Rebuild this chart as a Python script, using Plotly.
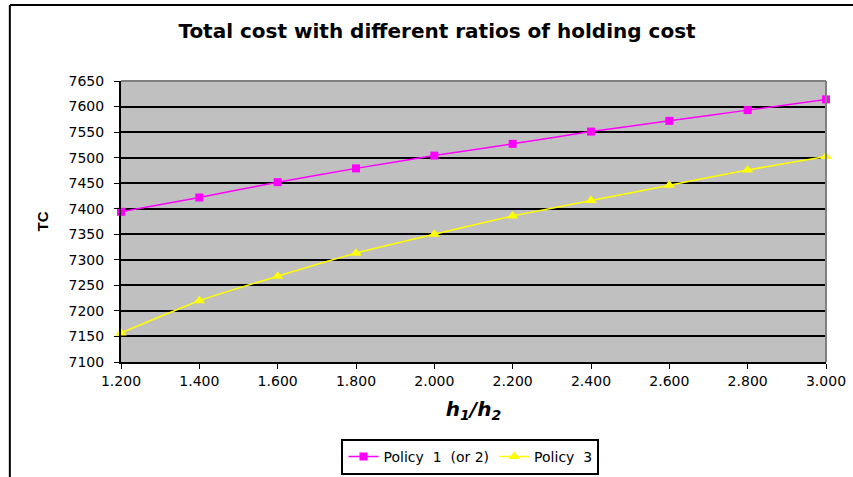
import plotly.graph_objects as go

# Ratio of holding costs h1/h2
ratio = [1.2, 1.4, 1.6, 1.8, 2.0, 2.2, 2.4, 2.6, 2.8, 3.0]
# Total cost for each policy
policy_1 = [7394, 7422, 7452, 7479, 7504, 7527, 7551, 7572, 7593, 7614]
policy_3 = [7157, 7220, 7268, 7313, 7350, 7386, 7416, 7446, 7476, 7502]

x_ticks = [1.2, 1.4, 1.6, 1.8, 2.0, 2.2, 2.4, 2.6, 2.8, 3.0]
y_ticks = list(range(7100, 7651, 50))

FONT = "DejaVu Sans"

fig = go.Figure()
fig.add_trace(go.Scatter(
    x=ratio, y=policy_1, name="Policy  1  (or 2)",
    mode="lines+markers",
    line=dict(color="#FF00FF", width=1.5, shape="spline", smoothing=0.4),
    marker=dict(symbol="square", size=8, color="#FF00FF"),
    cliponaxis=False,
))
fig.add_trace(go.Scatter(
    x=ratio, y=policy_3, name="Policy  3",
    mode="lines+markers",
    line=dict(color="#FFFF00", width=1.5, shape="spline", smoothing=0.4),
    marker=dict(symbol="triangle-up", size=10, color="#FFFF00"),
    cliponaxis=False,
))

# Outer chart frame (left and top edges)
frame_left = (10 - 121) / 704
frame_top = (362 - 5) / 281
fig.add_shape(type="line", xref="paper", yref="paper",
              x0=frame_left, x1=frame_left, y0=-0.5, y1=frame_top,
              line=dict(color="black", width=2))
fig.add_shape(type="line", xref="paper", yref="paper",
              x0=frame_left, x1=1.1, y0=frame_top, y1=frame_top,
              line=dict(color="black", width=2))
# Plot area border on the top and right
fig.add_shape(type="line", xref="paper", yref="paper",
              x0=0, x1=1, y0=1, y1=1, line=dict(color="#808080", width=2))
fig.add_shape(type="line", xref="paper", yref="paper",
              x0=1, x1=1, y0=0, y1=1, line=dict(color="#808080", width=2))

fig.update_layout(
    width=853, height=477,
    margin=dict(l=121, r=27, t=81, b=115, autoexpand=False),
    paper_bgcolor="white",
    plot_bgcolor="#C0C0C0",
    font=dict(family=FONT, color="black"),
    title=dict(
        text="<b>Total cost with different ratios of holding cost</b>",
        x=437 / 853, xanchor="center", xref="container",
        y=1 - 31 / 477, yanchor="middle", yref="container",
        font=dict(family=FONT, size=20, color="black"),
    ),
    showlegend=True,
    legend=dict(
        orientation="h",
        x=(470 - 121) / 704, xanchor="center",
        y=(362 - 475) / 281, yanchor="bottom",
        bordercolor="black", borderwidth=2,
        bgcolor="white",
        font=dict(family=FONT, size=14),
        itemwidth=30,
    ),
    xaxis=dict(
        range=[1.2, 3.0],
        tickvals=x_ticks,
        ticktext=[f"{v:.3f}" for v in x_ticks],
        ticks="outside", ticklen=5, tickcolor="black", tickwidth=1,
        showline=True, linecolor="black", linewidth=2,
        showgrid=False, zeroline=False,
        tickfont=dict(family=FONT, size=14),
        title=dict(text="<b><i>h<sub>1</sub>/h<sub>2</sub></i></b>",
                   font=dict(family=FONT, size=20),
                   standoff=14),
    ),
    yaxis=dict(
        range=[7100, 7650],
        tickvals=y_ticks,
        ticks="outside", ticklen=5, tickcolor="black", tickwidth=1,
        ticklabelstandoff=7,
        showline=True, linecolor="black", linewidth=2,
        showgrid=True, gridcolor="black", gridwidth=2,
        zeroline=False,
        tickfont=dict(family=FONT, size=14),
        title=dict(text="<b>TC</b>",
                   font=dict(family="Liberation Sans", size=15),
                   standoff=16),
    ),
)

fig.write_html("out.html")
